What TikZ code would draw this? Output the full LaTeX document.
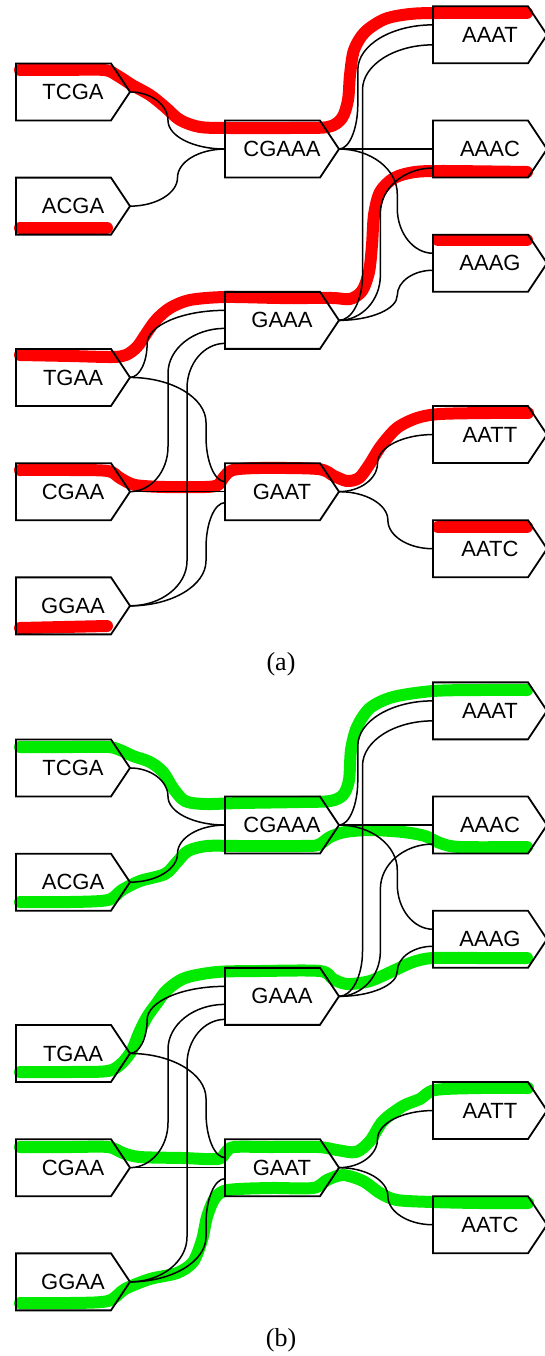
\documentclass[tikz,border=0pt]{standalone}
\usepackage{fontspec}
\newfontfamily\seqfont{Liberation Sans}
\newfontfamily\capfont{Liberation Serif}
\usetikzlibrary{calc}
\pgfdeclarelayer{hl}
\pgfsetlayers{hl,main}
\definecolor{hlred}{RGB}{255,0,0}
\definecolor{hlgreen}{RGB}{0,235,0}
\tikzset{
  seq/.style={minimum width=114pt, minimum height=57pt, inner sep=0pt, outer sep=0pt,
    font=\seqfont\fontsize{22}{24}\selectfont},
  boxline/.style={line width=1.8pt, line join=miter},
  conn/.style={line width=1.5pt},
  hlstroke/.style={line width=12pt, line cap=round, line join=round},
  captext/.style={font=\capfont\fontsize{26}{28}\selectfont, inner sep=0pt},
  link/.style={to path={let \p1=(\tikztostart), \p2=(\tikztotarget),
     \n1={\x1+#1*(\x2-\x1)},
     \n2={ifthenelse(\y2>\y1,min(45,(\y2-\y1)/2),-min(45,(\y1-\y2)/2))}
   in (\tikztostart) .. controls ({\x1+0.55*(\n1-\x1)},\y1) and (\n1,{\y1+0.45*(\n2)}) .. (\n1,{\y1+(\n2)})
     -- (\n1,{\y2-(\n2)})
     .. controls (\n1,{\y2-0.45*(\n2)}) and ({\x2-0.55*(\x2-\n1)},\y2) .. (\tikztotarget)}}
}
\begin{document}
\begin{tikzpicture}[x=1pt,y=1pt]
\useasboundingbox (0,0) rectangle (545,-1356);
\foreach \p/\off in {a/0,b/676}{
  \foreach \nm/\xc/\k in {TCGA/73/1, ACGA/73/3, TGAA/73/6, CGAA/73/8, GGAA/73/10,
      CGAAA/282/2, GAAA/282/5, GAAT/282/8,
      AAAT/490/0, AAAC/490/2, AAAG/490/4, AATT/490/7, AATC/490/9}{
    \node[seq] (\p\nm) at (\xc,{-(34.85+57.1*\k+\off)}) {\nm};
    \draw[boxline] (\p\nm.north west) -- ([xshift=-19pt]\p\nm.north east) -- (\p\nm.east)
       -- ([xshift=-19pt]\p\nm.south east) -- (\p\nm.south west) -- cycle;
  }
  \foreach \s/\t/\d/\f in {TCGA/CGAAA/0/0.4, ACGA/CGAAA/0/0.5, TGAA/GAAA/10/0.18,
      CGAA/GAAA/-8/0.4, GGAA/GAAA/-23/0.6, TGAA/GAAT/10/0.8, GGAA/GAAT/-11/0.8,
      CGAAA/AAAT/10/0.2, GAAA/AAAT/-10/0.25, GAAA/AAAC/-19/0.44,
      CGAAA/AAAG/10/0.62, GAAA/AAAG/-7/0.62, GAAT/AATT/0/0.41, GAAT/AATC/0/0.52}{
    \draw[conn] (\p\s.east) to[link=\f] ([yshift=\d pt]\p\t.west);
  }
  \draw[conn] (\p CGAA.east) -- (\p GAAT.west);
  \draw[conn] (\p CGAAA.east) -- (\p AAAC.west);
}
\node[captext] (capa) at (281,-664) {(a)};
\node[captext] (capb) at (281,-1340) {(b)};
\begin{pgfonlayer}{hl}
\begin{scope}[yscale=-1]
% panel (a) red highlights
\draw[hlstroke,hlred] plot[smooth,tension=0.5] coordinates {(20,70) (60,70) (104,70) (118,76) (132,85) (150,95) (165,107) (180,120) (200,127) (230,128) (290,128) (328,127) (342,118) (348,100) (350,75) (354,50) (365,32) (385,19) (410,14) (440,13) (527,13)};
\draw[hlstroke,hlred] (20,228) -- (107,228);
\draw[hlstroke,hlred] plot[smooth,tension=0.5] coordinates {(20,355) (70,356) (112,357) (126,355) (137,347) (146,334) (156,320) (170,308) (190,300) (225,297) (280,298) (332,298) (350,299) (362,291) (369,272) (372,245) (374,215) (380,192) (394,178) (415,172) (445,171) (527,172)};
\draw[hlstroke,hlred] (438,240) -- (527,240);
\draw[hlstroke,hlred] plot[smooth,tension=0.5] coordinates {(20,470) (70,470) (108,471) (120,478) (135,485) (165,487) (205,487) (218,485) (224,477) (233,470) (260,468) (318,469) (334,476) (347,481) (359,478) (369,465) (381,446) (397,428) (417,418) (440,414) (490,413) (528,413)};
\draw[hlstroke,hlred] (438,527) -- (527,527);
\draw[hlstroke,hlred] (20,628) -- (107,626);
% panel (b) green highlights
\draw[hlstroke,hlgreen] plot[smooth,tension=0.5] coordinates {(20,747) (70,747) (108,747) (120,750) (133,756) (150,762) (163,772) (173,788) (185,801) (205,804) (240,803) (300,802) (330,801) (343,795) (349,780) (351,750) (357,727) (370,708) (393,697) (433,691) (480,690) (527,690)};
\draw[hlstroke,hlgreen] plot[smooth,tension=0.5] coordinates {(20,902) (70,902) (108,900) (122,890) (140,881) (165,874) (177,862) (188,851) (207,846) (240,846) (300,846) (318,845) (330,837) (345,832) (370,830) (403,832) (425,836) (440,843) (460,847) (527,847)};
\draw[hlstroke,hlgreen] plot[smooth,tension=0.5] coordinates {(20,1072) (70,1072) (108,1071) (122,1063) (132,1050) (139,1033) (147,1017) (157,1003) (167,990) (185,978) (217,972) (260,971) (320,971) (333,979) (347,984) (370,981) (395,970) (413,962) (433,958) (480,958) (527,958)};
\draw[hlstroke,hlgreen] plot[smooth,tension=0.5] coordinates {(20,1147) (70,1147) (108,1147) (123,1153) (140,1157) (183,1158) (218,1159) (226,1152) (234,1147) (270,1147) (318,1147) (337,1150) (356,1152) (370,1141) (383,1121) (403,1106) (420,1099) (435,1090) (480,1088) (528,1088)};
\draw[hlstroke,hlgreen] plot[smooth,tension=0.5] coordinates {(20,1303) (70,1303) (108,1301) (125,1289) (150,1279) (177,1273) (193,1262) (202,1240) (207,1217) (215,1198) (228,1190) (270,1188) (313,1188) (327,1180) (343,1175) (363,1181) (380,1193) (397,1200) (433,1202) (480,1203) (528,1203)};
\end{scope}
\end{pgfonlayer}
\end{tikzpicture}
\end{document}
